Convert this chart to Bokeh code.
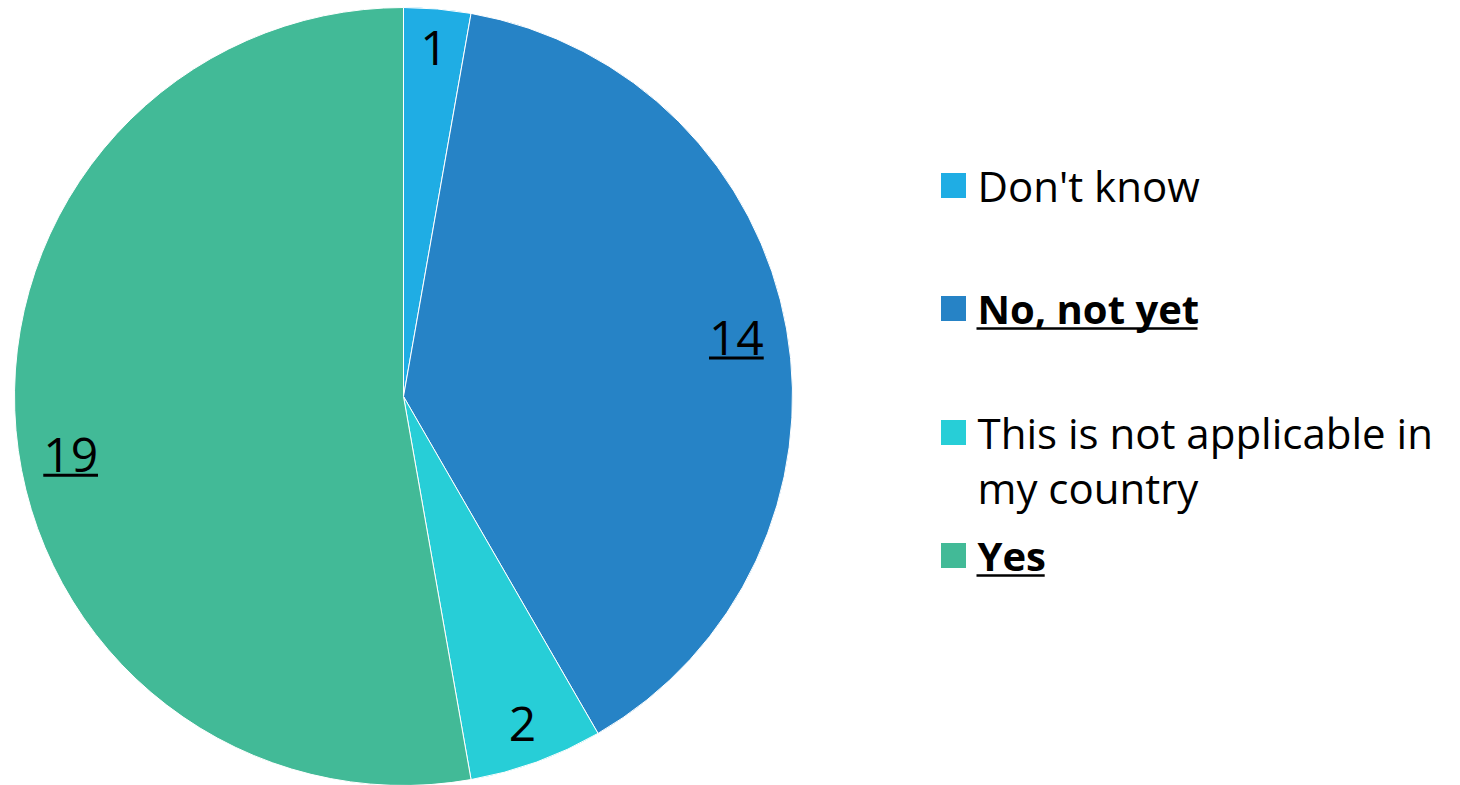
import math
from bokeh.plotting import figure
from bokeh.models import Range1d
from bokeh.core.properties import value
from bokeh.embed import file_html
from bokeh.resources import INLINE

# ---- data ----
categories = ["Don't know", "No, not yet", "This is not applicable in my country", "Yes"]
legend_lines = [["Don't know"], ["No, not yet"], ["This is not applicable in", "my country"], ["Yes"]]
counts = [1, 14, 2, 19]
colors = ["#1FADE4", "#2683C6", "#27CED7", "#42BA97"]
emphasis = [False, True, False, True]   # bold/underlined categories

# ---- layout constants (pixels) ----
W, H = 1460, 785
FONT = value("Open Sans")

def px(page_x):
    return page_x

def py(page_y):
    return H - page_y

cx, cy, R = px(403), py(396), 389
label_r = [350, 338, 348, 338]
label_nudge_deg = [0, 0, 0, -5]

p = figure(width=W, height=H, output_backend="svg", toolbar_location=None,
           x_range=Range1d(0, W), y_range=Range1d(0, H), min_border=0)
p.axis.visible = False
p.grid.visible = False
p.outline_line_color = None
p.background_fill_color = "white"
p.border_fill_color = "white"

total = sum(counts)
cum = 0
starts, ends, mids = [], [], []
for c in counts:
    a0 = 360.0 * cum / total
    a1 = 360.0 * (cum + c) / total
    starts.append(math.radians(90 - a0))
    ends.append(math.radians(90 - a1))
    mids.append((a0 + a1) / 2)
    cum += c

p.wedge(x=[cx] * len(counts), y=[cy] * len(counts), radius=R,
        start_angle=starts, end_angle=ends, direction="clock",
        fill_color=colors, line_color="white", line_width=1)

# data labels
LBL_SIZE = 48
for i, c in enumerate(counts):
    th = math.radians(mids[i] + label_nudge_deg[i])
    lx = cx + label_r[i] * math.sin(th)
    ly = cy + label_r[i] * math.cos(th)
    p.text(x=[lx], y=[ly], text=[str(c)], text_font=FONT,
           text_font_size=f"{LBL_SIZE}px", text_align="center",
           text_baseline="middle", text_color="black")
    if emphasis[i]:
        w = 0.57 * LBL_SIZE * len(str(c))
        uy = ly - 0.42 * LBL_SIZE
        p.segment(x0=[lx - w / 2], y0=[uy], x1=[lx + w / 2], y1=[uy],
                  line_color="black", line_width=3)

# legend
LEG_SIZE = 42
BOLD_SIZE = 40
sq_x = px(953)
txt_x = px(977)
row_y = [185, 308, 432, 555]
line_gap = 55
# approximate text widths (in em) for underline
under_em = {"No, not yet": 5.5, "Yes": 1.68}
for i, lines in enumerate(legend_lines):
    yy = py(row_y[i])
    p.rect(x=[sq_x], y=[yy], width=25, height=25, fill_color=colors[i], line_color=None)
    fs = BOLD_SIZE if emphasis[i] else LEG_SIZE
    for j, t in enumerate(lines):
        ty = yy - j * line_gap
        p.text(x=[txt_x], y=[ty], text=[t], text_font=FONT,
               text_font_size=f"{fs}px", text_align="left",
               text_baseline="middle", text_color="black",
               text_font_style="bold" if emphasis[i] else "normal")
        if emphasis[i]:
            uy = ty - 0.5 * fs
            p.segment(x0=[txt_x - 1], y0=[uy], x1=[txt_x + under_em[t] * fs], y1=[uy],
                      line_color="black", line_width=2.5)

open("out.html", "w").write(file_html(p, INLINE))
